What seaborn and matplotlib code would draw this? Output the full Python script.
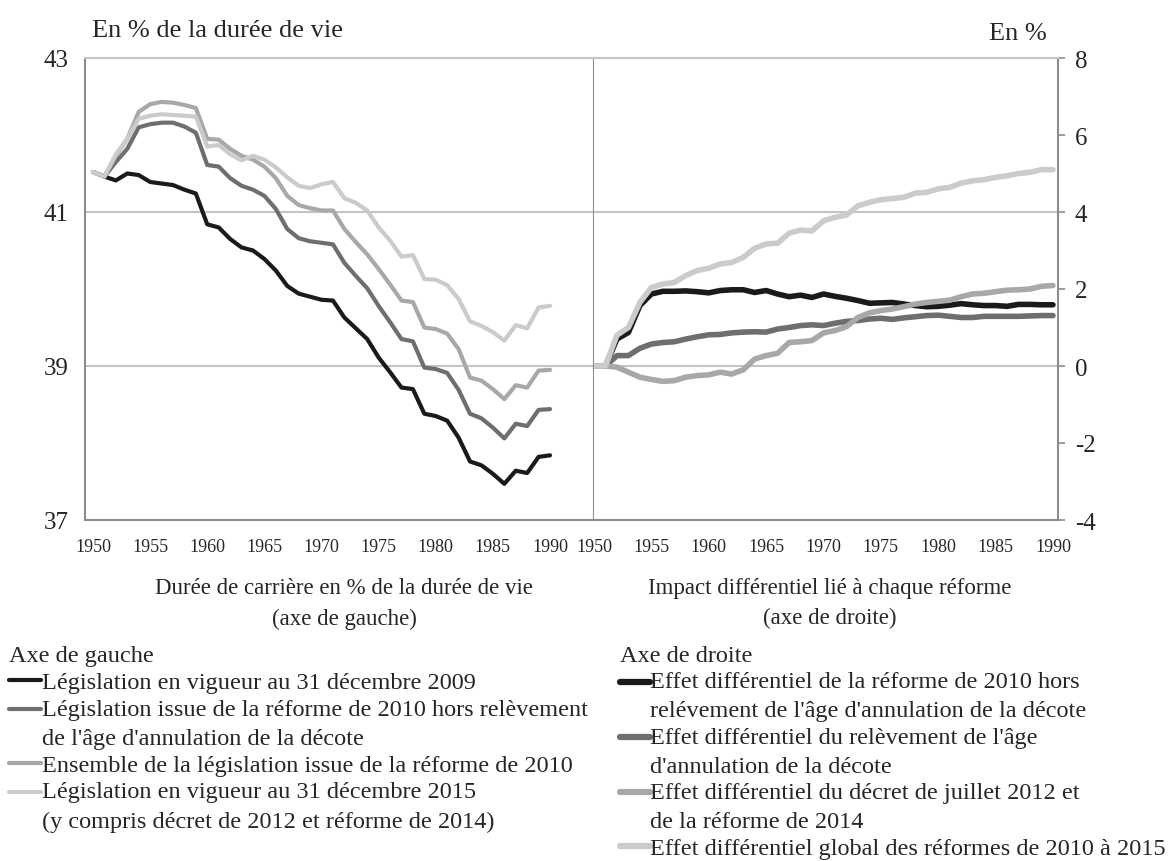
import numpy as np
import pandas as pd
import matplotlib.pyplot as plt
from matplotlib.legend_handler import HandlerLine2D
import seaborn as sns

# DATA
years = list(range(1950, 1991))

# Axe de gauche : durée de carrière en % de la durée de vie
carr_2009 = [41.52, 41.46, 41.41, 41.50, 41.48, 41.39, 41.37, 41.35, 41.29, 41.24,
             40.84, 40.80, 40.65, 40.54, 40.50, 40.39, 40.24, 40.04, 39.94, 39.90,
             39.86, 39.85, 39.63, 39.49, 39.35, 39.11, 38.92, 38.72, 38.70, 38.38,
             38.35, 38.29, 38.07, 37.76, 37.71, 37.60, 37.47, 37.64, 37.61, 37.82, 37.84]
carr_2010_hors = [41.52, 41.46, 41.65, 41.82, 42.10, 42.14, 42.16, 42.16, 42.11, 42.03,
                  41.61, 41.59, 41.44, 41.34, 41.29, 41.21, 41.04, 40.78, 40.66, 40.62,
                  40.60, 40.58, 40.34, 40.17, 40.01, 39.78, 39.57, 39.35, 39.32, 38.98,
                  38.96, 38.91, 38.69, 38.38, 38.32, 38.20, 38.06, 38.25, 38.22, 38.43, 38.44]
carr_2010_tout = [41.52, 41.46, 41.73, 41.95, 42.30, 42.40, 42.43, 42.42, 42.39, 42.35,
                  41.95, 41.94, 41.82, 41.73, 41.68, 41.59, 41.44, 41.21, 41.09, 41.05,
                  41.02, 41.02, 40.78, 40.61, 40.45, 40.26, 40.06, 39.85, 39.83, 39.50,
                  39.48, 39.42, 39.22, 38.85, 38.81, 38.70, 38.57, 38.75, 38.72, 38.94, 38.95]
carr_2015 = [41.52, 41.46, 41.75, 41.95, 42.21, 42.25, 42.27, 42.26, 42.25, 42.24,
             41.85, 41.87, 41.75, 41.67, 41.73, 41.68, 41.58, 41.45, 41.34, 41.31,
             41.36, 41.39, 41.18, 41.12, 41.02, 40.80, 40.63, 40.42, 40.44, 40.13,
             40.12, 40.05, 39.87, 39.58, 39.52, 39.44, 39.33, 39.53, 39.49, 39.76, 39.78]

# Axe de droite : impact différentiel en %
eff_2010_hors = [0.0, 0.0, 0.70, 0.87, 1.57, 1.87, 1.94, 1.94, 1.95, 1.93,
                 1.90, 1.96, 1.98, 1.98, 1.91, 1.96, 1.87, 1.80, 1.84, 1.78,
                 1.87, 1.81, 1.76, 1.70, 1.63, 1.64, 1.65, 1.61, 1.57, 1.54,
                 1.55, 1.58, 1.62, 1.59, 1.57, 1.57, 1.55, 1.60, 1.60, 1.59, 1.59]
eff_releve = [0.0, 0.0, 0.27, 0.27, 0.46, 0.57, 0.61, 0.63, 0.70, 0.76,
              0.81, 0.82, 0.86, 0.88, 0.89, 0.88, 0.96, 1.00, 1.05, 1.07,
              1.05, 1.11, 1.16, 1.18, 1.22, 1.24, 1.21, 1.25, 1.28, 1.31,
              1.32, 1.29, 1.26, 1.26, 1.29, 1.29, 1.29, 1.29, 1.30, 1.31, 1.31]
eff_decret = [0.0, 0.0, -0.03, -0.16, -0.29, -0.35, -0.40, -0.38, -0.29, -0.25,
              -0.23, -0.16, -0.21, -0.10, 0.18, 0.27, 0.33, 0.61, 0.63, 0.66,
              0.86, 0.92, 1.02, 1.26, 1.38, 1.44, 1.48, 1.54, 1.61, 1.65,
              1.68, 1.71, 1.80, 1.87, 1.89, 1.93, 1.97, 1.98, 2.00, 2.07, 2.09]
eff_global = [0.0, 0.0, 0.80, 1.00, 1.65, 2.04, 2.13, 2.17, 2.35, 2.48,
              2.54, 2.65, 2.69, 2.82, 3.06, 3.17, 3.19, 3.45, 3.53, 3.51,
              3.77, 3.86, 3.92, 4.16, 4.25, 4.32, 4.35, 4.38, 4.49, 4.51,
              4.60, 4.64, 4.75, 4.81, 4.84, 4.90, 4.94, 5.00, 5.03, 5.10, 5.10]

labels_left = ["Législation en vigueur au 31 décembre 2009",
               "Législation issue de la réforme de 2010 hors relèvement\nde l'âge d'annulation de la décote",
               "Ensemble de la législation issue de la réforme de 2010",
               "Législation en vigueur au 31 décembre 2015\n(y compris décret de 2012 et réforme de 2014)"]
labels_right = ["Effet différentiel de la réforme de 2010 hors\nrelévement de l'âge d'annulation de la décote",
                "Effet différentiel du relèvement de l'âge\nd'annulation de la décote",
                "Effet différentiel du décret de juillet 2012 et\nde la réforme de 2014",
                "Effet différentiel global des réformes de 2010 à 2015"]
greys = ['#1a1a1a', '#6e6e6e', '#a8a8a8', '#cbcbcb']

left_df = pd.concat([pd.DataFrame({'annee': years, 'valeur': v, 'serie': l})
                     for v, l in zip([carr_2009, carr_2010_hors, carr_2010_tout, carr_2015], labels_left)])
right_df = pd.concat([pd.DataFrame({'annee': years, 'valeur': v, 'serie': l})
                      for v, l in zip([eff_2010_hors, eff_releve, eff_decret, eff_global], labels_right)])


# legend line placed on the first line of a two-line label
class HandlerFirstLine(HandlerLine2D):
    def __init__(self, shift, **kw):
        super().__init__(**kw)
        self.shift = shift

    def create_artists(self, legend, orig_handle, xdescent, ydescent, width, height, fontsize, trans):
        artists = super().create_artists(legend, orig_handle, xdescent, ydescent,
                                         width, height, fontsize, trans)
        for a in artists:
            a.set_ydata(np.asarray(a.get_ydata()) + self.shift)
        return artists


sns.set_theme(style='white')
plt.rcParams['font.family'] = ['Liberation Serif', 'DejaVu Serif']
plt.rcParams['axes.unicode_minus'] = False

fig = plt.figure(figsize=(11.74, 8.62), dpi=100)
ax1 = fig.add_axes([85/1174, 1 - 521/862, 509/1174, 462/862])
ax2 = fig.add_axes([594/1174, 1 - 521/862, 464/1174, 462/862])

sns.lineplot(data=left_df, x='annee', y='valeur', hue='serie', hue_order=labels_left,
             palette=dict(zip(labels_left, greys)), linewidth=3, ax=ax1)
sns.lineplot(data=right_df, x='annee', y='valeur', hue='serie', hue_order=labels_right,
             palette=dict(zip(labels_right, greys)), linewidth=4, ax=ax2)
h1, l1 = ax1.get_legend_handles_labels()
h2, l2 = ax2.get_legend_handles_labels()
ax1.legend_.remove()
ax2.legend_.remove()

grid_c = '#c4c4c4'
frame_c = '#8c8c8c'

# left panel
ax1.set_xlim(1949.3, 1993.85)
ax1.set_ylim(37, 43)
ax1.set_yticks([37, 39, 41, 43])
ax1.set_xticks(range(1950, 1991, 5))
ax1.tick_params(axis='y', length=0, pad=12, labelsize=18)
ax1.grid(axis='y', color=grid_c, linewidth=1.5)

# right panel
ax2.set_xlim(1950, 1990.44)
ax2.set_ylim(-4, 8)
ax2.set_yticks(range(-4, 9, 2))
ax2.set_xticks(range(1950, 1991, 5))
ax2.yaxis.tick_right()
ax2.tick_params(axis='y', right=True, length=5, width=1.2, color=frame_c, pad=7, labelsize=18)
ax2.grid(False)
for v in (0, 4):
    ax2.axhline(v, color=grid_c, linewidth=1.5, zorder=0)

for ax in (ax1, ax2):
    ax.set_xlabel('')
    ax.set_ylabel('')
    ax.tick_params(axis='x', length=0, pad=13, labelsize=13)
    ax.set_axisbelow(True)
    for side in ('left', 'right', 'bottom'):
        ax.spines[side].set_color(frame_c)
        ax.spines[side].set_linewidth(1.5)
    ax.spines['top'].set_color(grid_c)
    ax.spines['top'].set_linewidth(1.5)
ax2.spines['left'].set_visible(False)

# texts
fig.text(92/1174, 1 - 31/862, 'En % de la durée de vie', fontsize=19, va='center', ha='left')
fig.text(1047/1174, 1 - 34/862, 'En %', fontsize=19, va='center', ha='right')
fig.text(344/1174, 1 - 604/862, 'Durée de carrière en % de la durée de vie\n(axe de gauche)',
         fontsize=16.5, ha='center', va='center', linespacing=1.55)
fig.text(830/1174, 1 - 604/862, 'Impact différentiel lié à chaque réforme\n(axe de droite)',
         fontsize=16.5, ha='center', va='center', linespacing=1.55)

# legends
shift = 10.2  # half the distance between two text lines, in points
leg_kw = dict(loc='upper left', frameon=False, alignment='left', fontsize=17.5,
              title_fontsize=17.5, labelspacing=0.22, borderpad=0, borderaxespad=0)
leg1 = fig.legend(h1, l1, bbox_to_anchor=(9/1174, 1 - 646/862), title='Axe de gauche',
                  handlelength=1.3, handletextpad=0.06,
                  handler_map={h: HandlerFirstLine(shift) for h, l in zip(h1, l1) if '\n' in l},
                  **leg_kw)
leg2 = fig.legend(h2, l2, bbox_to_anchor=(620/1174, 1 - 646/862), title='Axe de droite',
                  handlelength=1.25, handletextpad=0.0,
                  handler_map={h: HandlerFirstLine(shift) for h, l in zip(h2, l2) if '\n' in l},
                  **leg_kw)
for leg, lw in ((leg1, 3), (leg2, 4.5)):
    for t in leg.get_texts():
        t.set_linespacing(1.5)
    for line in leg.get_lines():
        line.set_linewidth(lw)

fig.savefig('out.png', dpi=100)
